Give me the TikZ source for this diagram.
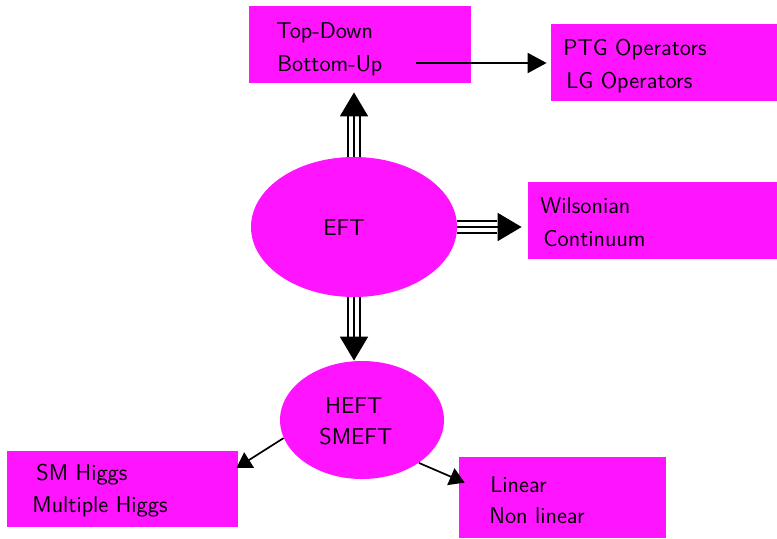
\documentclass[tikz,border=0pt]{standalone}
\usetikzlibrary{arrows.meta,shapes.geometric,fit,calc}
\definecolor{mag}{RGB}{255,20,255}
\begin{document}
\begin{tikzpicture}[x=0.5pt,y=-0.5pt,
  box/.style={fill=mag, draw=none, rectangle, inner sep=0pt, fit={#1}},
  oval/.style={fill=mag, draw=none, ellipse, inner sep=0pt},
  tx/.style={inner sep=0pt, anchor=base west, font=\sffamily\fontsize{11.4}{13}\selectfont},
  rail/.style={line width=0.95pt},
  bigtip/.style={rail, -{Triangle[length=12pt,width=14pt]}},
  arr/.style={line width=1pt, -{Triangle[length=9.5pt,width=10pt]}},
  arrs/.style={line width=0.85pt, -{Triangle[length=7.5pt,width=9pt]}}]
\useasboundingbox (0,0) rectangle (777,538);

% boxes and ellipses
\node[box={(249,6)(471,83)}] (tdbu) {};
\node[box={(551,24)(777,101)}] (ptg) {};
\node[box={(528,182)(777,259)}] (wil) {};
\node[box={(7,451)(238,527)}] (smh) {};
\node[box={(459,457)(666,538)}] (lin) {};
\node[oval, minimum width=103pt, minimum height=70pt] (eft) at (354,227) {};
\node[oval, minimum width=82pt, minimum height=59pt] (heft) at (362,420) {};

% labels
\node[tx] (t1) at (276,38) {Top-Down};
\node[tx] (t2) at (277,71) {Bottom-Up};
\node[tx] (p1) at (563,55) {PTG Operators};
\node[tx] (p2) at (566,88) {LG Operators};
\node[tx] (w1) at (540,213) {Wilsonian};
\node[tx] (w2) at (543,246) {Continuum};
\node[tx] (e1) at (323,235) {EFT};
\node[tx] (h1) at (325,413) {HEFT};
\node[tx] (h2) at (319,444) {SMEFT};
\node[tx] (s1) at (36,480) {SM Higgs};
\node[tx] (s2) at (32,512) {Multiple Higgs};
\node[tx] (l1) at (490,492) {Linear};
\node[tx] (l2) at (489,523) {Non linear};

% triple arrow up
\draw[bigtip, shorten >=4.5pt] (eft.north) -- (eft.north |- tdbu.south);
\foreach \s in {-3pt,3pt}
  \draw[rail] ($(eft.north)+(\s,0pt)$) -- ($(eft.north |- tdbu.south)+(\s,-16pt)$);

% triple arrow right
\draw[bigtip, shorten >=3pt] (eft.east) -- (eft.east -| wil.west);
\foreach \s in {-3pt,3pt}
  \draw[rail] ($(eft.east)+(0pt,\s)$) -- ($(eft.east -| wil.west)+(-15.5pt,\s)$);

% triple arrow down
\draw[bigtip] (eft.south) -- (eft.south |- heft.north);
\foreach \s in {-3pt,3pt}
  \draw[rail] ($(eft.south)+(\s,0pt)$) -- ($(eft.south |- heft.north)+(\s,12pt)$);

% single arrows
\coordinate (a1) at (416,63);
\draw[arr, shorten >=2pt] (a1) -- (a1 -| ptg.west);
\draw[arrs] (heft.193) -- ([xshift=-1pt,yshift=10.5pt]smh.east);
\draw[arrs] (heft.323) -- ([xshift=3pt,yshift=-13pt]lin.north west);
\end{tikzpicture}
\end{document}
